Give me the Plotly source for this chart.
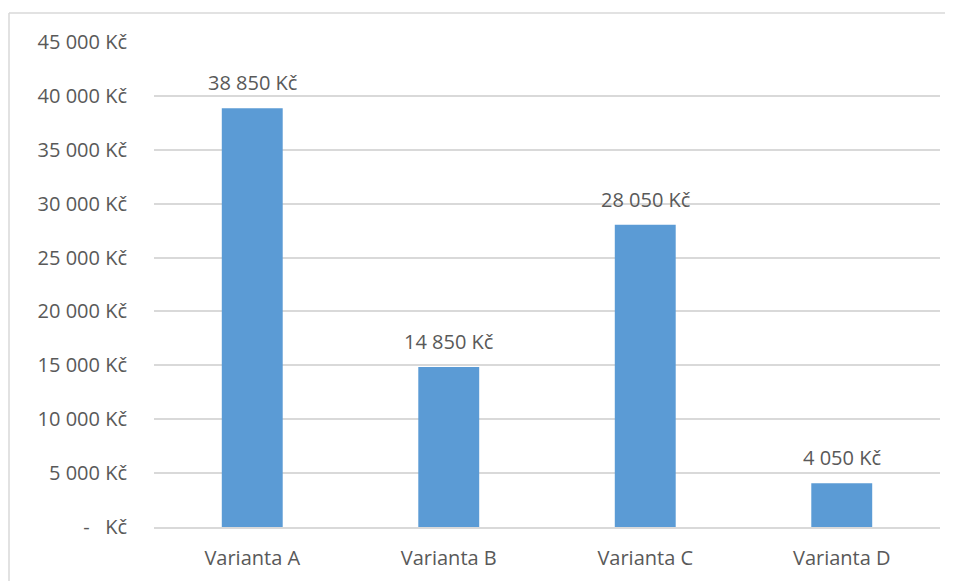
import plotly.graph_objects as go

categories = ["Varianta A", "Varianta B", "Varianta C", "Varianta D"]
values = [38850, 14850, 28050, 4050]
tick_values = [0, 5000, 10000, 15000, 20000, 25000, 30000, 35000, 40000, 45000]


def fmt(v):
    if v == 0:
        return "-   Kč"
    return f"{v:,}".replace(",", " ") + " Kč"


tick_labels = [fmt(v) for v in tick_values]
value_labels = [fmt(v) for v in values]

FONT = "Open Sans"
FS = 20
TXT = "#595959"
GRID = "#D9D9D9"

fig = go.Figure()
fig.add_trace(go.Bar(
    x=categories, y=values, width=0.31,
    marker=dict(color="#5B9BD5", line=dict(width=0)),
    hoverinfo="skip",
))

for c, v, t in zip(categories, values, value_labels):
    fig.add_annotation(x=c, y=v, text=t, showarrow=False, yanchor="bottom",
                       yshift=10, font=dict(family=FONT, size=FS, color=TXT))

# page has an 8px body offset
OFF = 8
W, H = 953 - OFF, 581 - OFF
L, R, T, B = 154 - OFF, 13, 42 - OFF, 54
pw, ph = W - L - R, H - T - B


def px(x):
    return (x - OFF - L) / pw


def py(y):
    return (H - B - (y - OFF)) / ph


fig.add_shape(type="line", xref="paper", yref="paper", x0=px(9), x1=px(953), y0=py(13), y1=py(13),
              line=dict(color=GRID, width=1.5))
fig.add_shape(type="line", xref="paper", yref="paper", x0=px(9), x1=px(9), y0=py(13), y1=py(581),
              line=dict(color=GRID, width=1.5))

fig.update_layout(
    width=W, height=H,
    margin=dict(l=L, r=R, t=T, b=B),
    paper_bgcolor="white", plot_bgcolor="white",
    showlegend=False,
    font=dict(family=FONT, size=FS, color=TXT),
)
fig.update_yaxes(range=[0, 45000], tickvals=tick_values, ticktext=tick_labels,
                 showgrid=True, gridcolor=GRID, gridwidth=1.5, zeroline=False,
                 showline=False, ticks="", ticklabelstandoff=26, automargin=False,
                 tickfont=dict(family=FONT, size=FS, color=TXT))
fig.update_xaxes(showline=True, linecolor=GRID, linewidth=1.5, ticks="",
                 ticklabelstandoff=12, automargin=False,
                 tickfont=dict(family=FONT, size=FS, color=TXT))

fig.write_html("out.html")
